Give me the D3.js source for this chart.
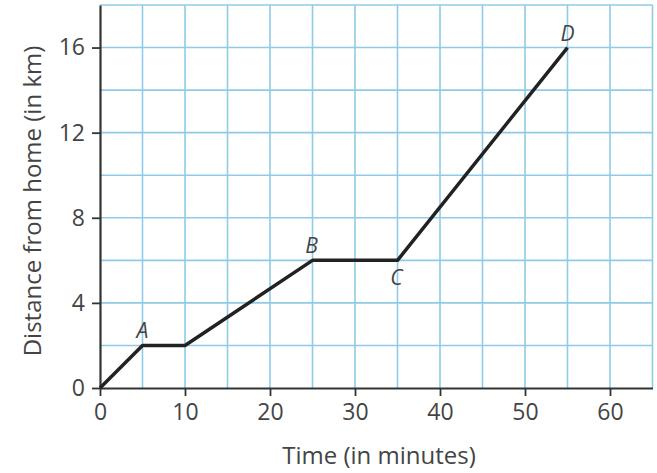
<!DOCTYPE html>
<html>
<head>
<meta charset="utf-8">
<script src="https://cdn.jsdelivr.net/npm/d3@7"></script>
<style>
  body { margin: 0; background: #fff; }
  text { font-family: "Open Sans", "Noto Sans", sans-serif; fill: #444; }
</style>
</head>
<body>
<svg id="canvas"></svg>
<script>
// journey data (time in minutes, distance in km)
const times = [0, 5, 10, 25, 35, 55];
const distances = [0, 2, 2, 6, 6, 16];
const pointNames = ["", "A", "", "B", "C", "D"];
const xTicks = [0, 10, 20, 30, 40, 50, 60];
const yTicks = [0, 4, 8, 12, 16];

const width = 657;
const height = 473;
const svg = d3.select("#canvas").attr("width", width).attr("height", height);

// margins
const marginTop = 5;
const marginRight = 4.5;
const marginBottom = 85;
const marginLeft = 100;

const xScale = d3.scaleLinear()
    .domain([0, 65])
    .range([marginLeft, width - marginRight]);

const yScale = d3.scaleLinear()
    .domain([0, 18])
    .range([height - marginBottom, marginTop]);

// grid (every 5 minutes, every 2 km)
const grid = svg.append("g").attr("stroke", "#8fcbe6").attr("stroke-width", 1.6);
grid.selectAll("line.v")
    .data(d3.range(5, 66, 5))
    .join("line")
        .attr("class", "v")
        .attr("x1", d => xScale(d)).attr("x2", d => xScale(d))
        .attr("y1", yScale(0)).attr("y2", yScale(18));
grid.selectAll("line.h")
    .data(d3.range(2, 19, 2))
    .join("line")
        .attr("class", "h")
        .attr("x1", xScale(0)).attr("x2", xScale(65))
        .attr("y1", d => yScale(d)).attr("y2", d => yScale(d));

// axes
const xAxis = svg.append("g")
    .attr("transform", `translate(0,${yScale(0)})`)
    .call(d3.axisBottom(xScale).tickValues(xTicks).tickSize(8).tickSizeOuter(0).tickPadding(8));
const yAxis = svg.append("g")
    .attr("transform", `translate(${xScale(0)},0)`)
    .call(d3.axisLeft(yScale).tickValues(yTicks).tickSize(8).tickSizeOuter(0).tickPadding(7));

[xAxis, yAxis].forEach(ax => {
    ax.select(".domain").attr("stroke", "#333").attr("stroke-width", 2.2);
    ax.selectAll(".tick line").attr("stroke", "#333").attr("stroke-width", 1.8);
    ax.selectAll(".tick text").attr("font-size", 23).attr("fill", "#4a4a4a")
        .attr("font-family", "'Open Sans', 'Noto Sans', sans-serif");
});

// axis titles
svg.append("text")
    .attr("x", 379)
    .attr("y", 464)
    .attr("text-anchor", "middle")
    .attr("font-size", 24)
    .text("Time (in minutes)");

svg.append("text")
    .attr("transform", "translate(41,201) rotate(-90)")
    .attr("text-anchor", "middle")
    .attr("font-size", 24)
    .text("Distance from home (in km)");

// journey line
const pts = times.map((t, i) => ({ t: t, d: distances[i], name: pointNames[i] }));
const line = d3.line().x(d => xScale(d.t)).y(d => yScale(d.d));
svg.append("path")
    .datum(pts)
    .attr("fill", "none")
    .attr("stroke", "#222")
    .attr("stroke-width", 3.5)
    .attr("stroke-linejoin", "round")
    .attr("d", line);

// point labels
const labelOffset = { A: [0, -7], B: [-1, -7], C: [-1, 25], D: [0, -7] };
svg.selectAll("text.pt")
    .data(pts.filter(d => d.name))
    .join("text")
        .attr("class", "pt")
        .attr("x", d => xScale(d.t) + labelOffset[d.name][0])
        .attr("y", d => yScale(d.d) + labelOffset[d.name][1])
        .attr("text-anchor", "middle")
        .attr("font-size", 21)
        .attr("font-style", "italic")
        .text(d => d.name);
</script>
</body>
</html>
